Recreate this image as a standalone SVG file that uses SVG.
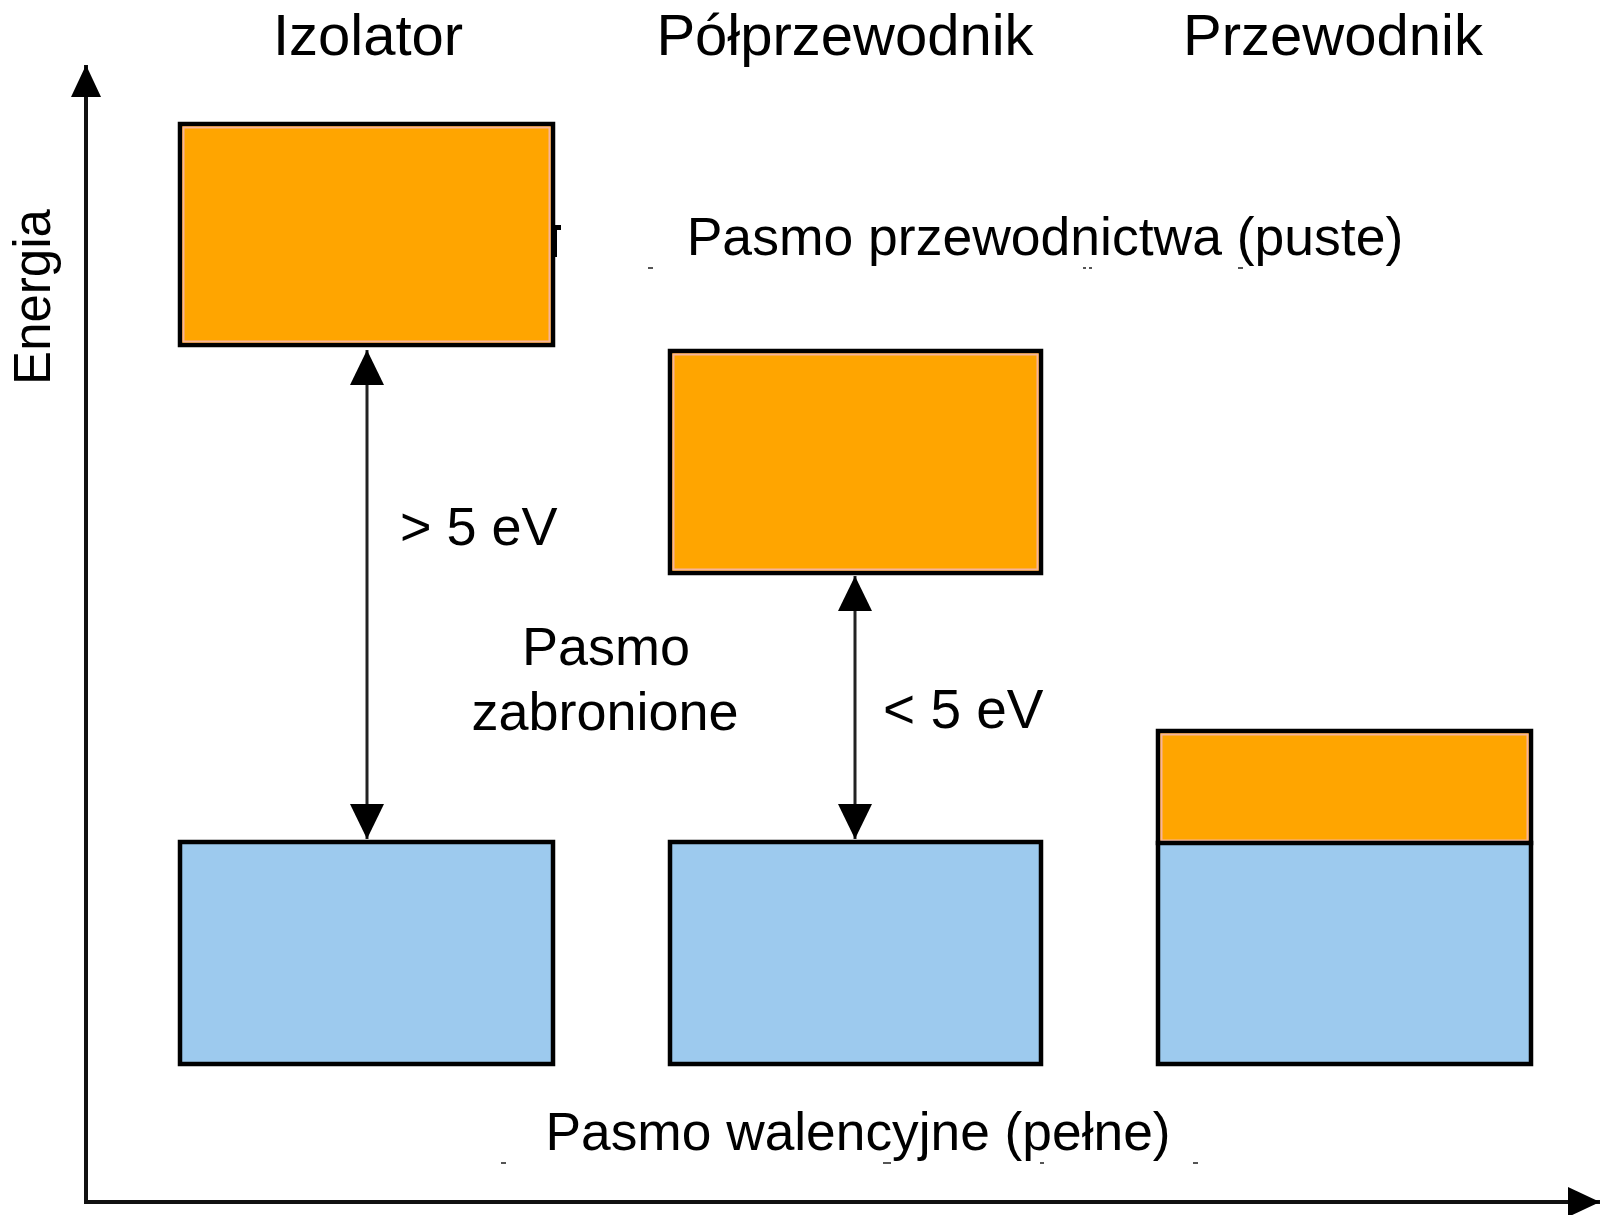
<svg xmlns="http://www.w3.org/2000/svg" width="1601" height="1215" viewBox="0 0 1601 1215">
  <style>
    .lbl { font-family: "Liberation Sans", Arial, sans-serif; fill: #000; }
    .title { font-size: 58px; text-anchor: middle; }
    .txt { font-size: 54px; }
    .cb { fill: #FFA500; stroke: #000; stroke-width: 4.5; }
    .cbin { fill: none; stroke: #F6B49C; stroke-width: 2; }
    .vb { fill: #9DCAEE; stroke: #000; stroke-width: 4.5; }
    .axis { stroke: #111; stroke-width: 4; fill: none; }
    .gap { stroke: #222; stroke-width: 3; fill: none; }
    .art { fill: #555; }
  </style>
  <defs>
    <marker id="axisHead" viewBox="0 0 32 30" refX="32" refY="15" markerWidth="32" markerHeight="30" markerUnits="userSpaceOnUse" orient="auto">
      <path d="M0,0 L32,15 L0,30 Z" fill="#000"/>
    </marker>
    <marker id="gapHead" viewBox="0 0 35 34" refX="35" refY="17" markerWidth="35" markerHeight="34" markerUnits="userSpaceOnUse" orient="auto-start-reverse">
      <path d="M0,0 L35,17 L0,34 Z" fill="#000"/>
    </marker>
  </defs>
  <rect width="1601" height="1215" fill="#fff"/>

  <g id="titles">
    <text class="lbl title" x="368" y="55">Izolator</text>
    <text class="lbl title" x="845" y="55">Półprzewodnik</text>
    <text class="lbl title" x="1333" y="55">Przewodnik</text>
  </g>

  <g id="axis-label">
    <text class="lbl" font-size="51" text-anchor="middle" transform="translate(50,297) rotate(-90)">Energia</text>
  </g>

  <g id="iso-conduction">
    <rect class="cb" x="180" y="124" width="373" height="221"/>
    <rect class="cbin" x="183.5" y="127.5" width="366" height="214"/>
  </g>
  <g id="semi-conduction">
    <rect class="cb" x="670" y="351" width="371" height="222"/>
    <rect class="cbin" x="673.5" y="354.5" width="364" height="215"/>
  </g>
  <g id="iso-valence">
    <rect class="vb" x="180" y="842" width="373" height="222"/>
  </g>
  <g id="semi-valence">
    <rect class="vb" x="670" y="842" width="371" height="222"/>
  </g>
  <g id="conductor">
    <rect class="cb" x="1158" y="731" width="373" height="112"/>
    <rect class="cbin" x="1161.5" y="734.5" width="366" height="106"/>
    <rect class="vb" x="1158" y="843" width="373" height="221"/>
  </g>

  <g id="artifacts">
    <path d="M552,225 H561 V230 H557 V257 H552 Z" fill="#000"/>
    <rect class="art" x="648" y="267" width="5" height="2"/>
    <rect class="art" x="1083" y="267" width="3" height="2"/>
    <rect class="art" x="1089" y="267" width="3" height="2"/>
    <rect class="art" x="1238" y="267" width="5" height="2"/>
    <rect class="art" x="501" y="1162" width="5" height="2"/>
    <rect class="art" x="883" y="1162" width="8" height="2"/>
    <rect class="art" x="1040" y="1162" width="4" height="2"/>
    <rect class="art" x="1193" y="1162" width="5" height="2"/>
  </g>

  <g id="labels">
    <text class="lbl txt" x="1045" y="255" text-anchor="middle" style="font-size:53.5px">Pasmo przewodnictwa (puste)</text>
    <text class="lbl txt" x="400" y="545">&gt; 5 eV</text>
    <text class="lbl txt" x="606" y="665" text-anchor="middle">Pasmo</text>
    <text class="lbl txt" x="605" y="730" text-anchor="middle">zabronione</text>
    <text class="lbl txt" x="883" y="728" style="font-size:55px">&lt; 5 eV</text>
    <text class="lbl txt" x="858" y="1150" text-anchor="middle" style="font-size:53.3px">Pasmo walencyjne (pełne)</text>
  </g>

  <g id="connectors">
    <line class="axis" x1="86" y1="1202" x2="86" y2="65" marker-end="url(#axisHead)"/>
    <line class="axis" x1="84" y1="1202" x2="1600" y2="1202" marker-end="url(#axisHead)"/>
    <line class="gap" x1="367" y1="350" x2="367" y2="839" marker-start="url(#gapHead)" marker-end="url(#gapHead)"/>
    <line class="gap" x1="855" y1="576" x2="855" y2="839" marker-start="url(#gapHead)" marker-end="url(#gapHead)"/>
  </g>
</svg>
